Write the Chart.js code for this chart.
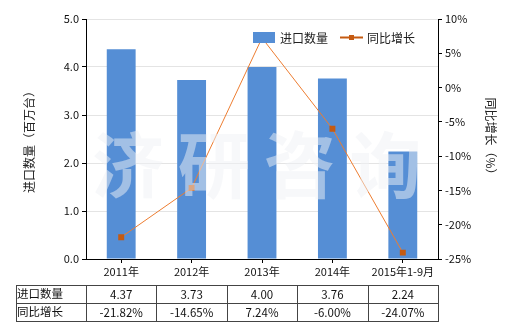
<!DOCTYPE html>
<html>
<head>
<meta charset="utf-8">
<script src="https://cdn.jsdelivr.net/npm/chart.js@4/dist/chart.umd.min.js"></script>
<style>
    html, body { margin: 0; padding: 0; background: #ffffff; }
    #wrap { position: relative; width: 520px; height: 330px; }
</style>
</head>
<body>
<div id="wrap"><canvas id="importChart" width="520" height="330"></canvas></div>
<script>
    const categories = ['2011年', '2012年', '2013年', '2014年', '2015年1-9月'];
    const importValues = [4.37, 3.73, 4.00, 3.76, 2.24];
    const growthValues = [-21.82, -14.65, 7.24, -6.00, -24.07];
    const importLabels = ['4.37', '3.73', '4.00', '3.76', '2.24'];
    const growthLabels = ['-21.82%', '-14.65%', '7.24%', '-6.00%', '-24.07%'];
    const seriesNames = ['进口数量', '同比增长'];
    const leftTitle = '进口数量（百万台）';
    const rightTitle = '同比增长（%）';
    const watermark = ['济', '研', '咨', '询'];

    const BAR_COLOR = '#558ed5';
    const LINE_COLOR = '#ed7d31';
    const MARK_COLOR = '#c55a11';
    const FONT = '"Noto Sans CJK SC", "DejaVu Sans", sans-serif';

    // Watermark behind the line, over the bars
    const watermarkPlugin = {
        id: 'watermark',
        afterDatasetDraw(chart, args) {
            if (args.index !== 0) return;
            const ctx = chart.ctx;
            const area = chart.chartArea;
            const step = (area.right - area.left) / 4.1;
            ctx.save();
            ctx.fillStyle = 'rgba(240,242,246,0.5)';
            ctx.font = 'bold 72px ' + FONT;
            ctx.textAlign = 'center';
            ctx.textBaseline = 'middle';
            watermark.forEach((ch, i) => {
                ctx.fillText(ch, area.left + 42 + i * step, 165);
            });
            ctx.restore();
        },
    };

    // Titles, legend and the data table under the axis
    const extrasPlugin = {
        id: 'extras',
        afterDraw(chart) {
            const ctx = chart.ctx;
            const area = chart.chartArea;
            const x = chart.scales.x;
            ctx.save();
            ctx.fillStyle = '#222';
            ctx.font = '12px ' + FONT;
            ctx.textAlign = 'center';
            ctx.textBaseline = 'middle';

            ctx.save();
            ctx.translate(29, (area.top + area.bottom) / 2);
            ctx.rotate(-Math.PI / 2);
            ctx.fillText(leftTitle, 0, 0);
            ctx.restore();

            ctx.save();
            ctx.translate(491, (area.top + area.bottom) / 2);
            ctx.rotate(Math.PI / 2);
            ctx.fillText(rightTitle, 0, 0);
            ctx.restore();

            // legend
            ctx.font = '12px ' + FONT;
            ctx.textAlign = 'left';
            ctx.fillStyle = BAR_COLOR;
            ctx.fillRect(253, 32, 22, 11);
            ctx.fillStyle = '#222';
            ctx.fillText(seriesNames[0], 280, 38);
            ctx.strokeStyle = MARK_COLOR;
            ctx.lineWidth = 2;
            ctx.beginPath();
            ctx.moveTo(340, 37.5);
            ctx.lineTo(363, 37.5);
            ctx.stroke();
            ctx.fillStyle = MARK_COLOR;
            ctx.fillRect(349, 35, 5, 5);
            ctx.fillStyle = '#222';
            ctx.fillText(seriesNames[1], 367, 38);

            // table
            const tLeft = 16;
            const tRight = area.right;
            const rows = [285, 303, 321];
            const half = (x.getPixelForValue(1) - x.getPixelForValue(0)) / 2;
            ctx.strokeStyle = '#444';
            ctx.lineWidth = 1;
            ctx.beginPath();
            rows.forEach((y) => {
                ctx.moveTo(tLeft, y + 0.5);
                ctx.lineTo(tRight, y + 0.5);
            });
            ctx.moveTo(tLeft + 0.5, rows[0]);
            ctx.lineTo(tLeft + 0.5, rows[2] + 1);
            for (let i = 0; i <= categories.length; i++) {
                const px = Math.round(x.getPixelForValue(i) - half) + 0.5;
                ctx.moveTo(px, rows[0]);
                ctx.lineTo(px, rows[2] + 1);
            }
            ctx.stroke();

            ctx.fillStyle = '#111';
            ctx.font = '11.5px ' + FONT;
            ctx.textAlign = 'left';
            ctx.fillText(seriesNames[0], 17, 294);
            ctx.fillText(seriesNames[1], 17, 312);
            ctx.textAlign = 'center';
            categories.forEach((c, i) => {
                const px = x.getPixelForValue(i);
                ctx.fillText(importLabels[i], px, 295);
                ctx.fillText(growthLabels[i], px, 313);
            });
            ctx.restore();
        },
    };

    const ctx = document.getElementById('importChart').getContext('2d');

    new Chart(ctx, {
        data: {
            labels: categories,
            datasets: [
                {
                    type: 'line',
                    label: seriesNames[1],
                    data: growthValues,
                    yAxisID: 'y1',
                    borderColor: LINE_COLOR,
                    borderWidth: 1,
                    backgroundColor: MARK_COLOR,
                    pointStyle: 'rect',
                    pointRadius: 4.2,
                    pointBorderWidth: 0,
                    tension: 0,
                    order: 0,
                },
                {
                    type: 'bar',
                    label: seriesNames[0],
                    data: importValues,
                    yAxisID: 'y',
                    backgroundColor: BAR_COLOR,
                    barPercentage: 0.41,
                    categoryPercentage: 1,
                    order: 1,
                },
            ],
        },
        options: {
            responsive: false,
            animation: false,
            layout: {
                padding: { top: 19, left: 0, right: 0, bottom: 0 },
            },
            plugins: {
                legend: { display: false },
                tooltip: { enabled: false },
            },
            scales: {
                x: {
                    afterFit(scale) { scale.height = 71; },
                    border: { color: '#000', width: 1 },
                    grid: {
                        offset: false,
                        drawOnChartArea: false,
                        tickLength: 4,
                        tickColor: '#000',
                    },
                    ticks: {
                        color: '#111',
                        padding: 2,
                        font: { family: FONT, size: 11 },
                    },
                },
                y: {
                    position: 'left',
                    min: 0,
                    max: 5,
                    afterFit(scale) { scale.width = 86; },
                    border: { color: '#000', width: 1 },
                    grid: {
                        color: '#e4e4e4',
                        tickLength: 4,
                        tickColor: '#000',
                    },
                    ticks: {
                        stepSize: 1,
                        color: '#111',
                        padding: 3,
                        font: { family: FONT, size: 11 },
                        callback(v) { return v.toFixed(1); },
                    },
                },
                y1: {
                    position: 'right',
                    min: -25,
                    max: 10,
                    afterFit(scale) { scale.width = 82; },
                    border: { color: '#000', width: 1 },
                    grid: {
                        drawOnChartArea: false,
                        tickLength: 4,
                        tickColor: '#000',
                    },
                    ticks: {
                        stepSize: 5,
                        color: '#111',
                        padding: 3,
                        font: { family: FONT, size: 11 },
                        callback(v) { return v + '%'; },
                    },
                },
            },
        },
        plugins: [watermarkPlugin, extrasPlugin],
    });
</script>
</body>
</html>
